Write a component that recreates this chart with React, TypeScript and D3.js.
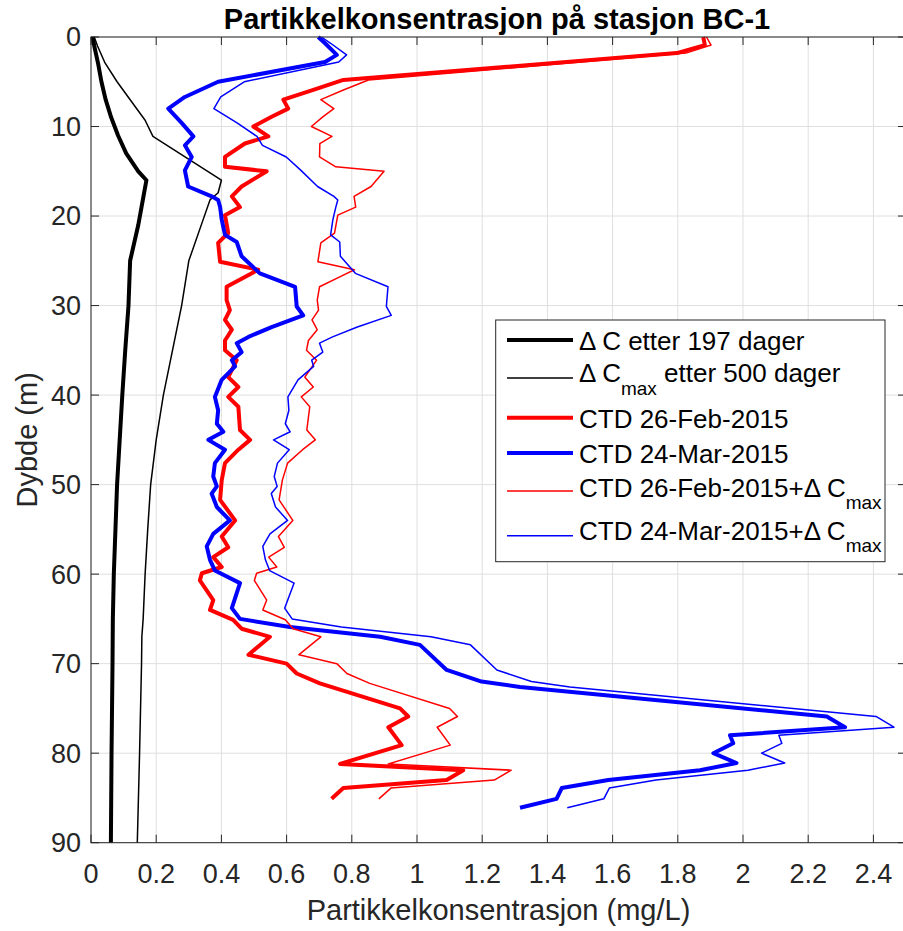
import React from 'react';
import * as d3 from 'd3';

// ---------- data ----------
const xTicks = [0, 0.2, 0.4, 0.6, 0.8, 1, 1.2, 1.4, 1.6, 1.8, 2, 2.2, 2.4];
const xTickLabels = ['0', '0.2', '0.4', '0.6', '0.8', '1', '1.2', '1.4', '1.6', '1.8', '2', '2.2', '2.4'];
const yTicks = [0, 10, 20, 30, 40, 50, 60, 70, 80, 90];
const yTickLabels = ['0', '10', '20', '30', '40', '50', '60', '70', '80', '90'];

// ΔC after 197 days (thick black)
const depthDC = [0, 1, 3, 5, 7, 9, 11, 13, 15, 16, 17, 19, 21, 25, 30, 35, 40, 45, 50, 55, 60, 65, 70, 80, 90];
const dC197 = [0.005, 0.01, 0.022, 0.032, 0.045, 0.062, 0.083, 0.108, 0.145, 0.17, 0.165, 0.155, 0.145, 0.12, 0.115, 0.105, 0.096, 0.088, 0.08, 0.075, 0.07, 0.067, 0.066, 0.063, 0.061];

// ΔCmax after 500 days (thin black)
const depthDCmax = [0, 1, 2.9, 5, 6.7, 9.3, 11.1, 16, 17.4, 18.2, 20.4, 25, 30, 35, 40, 45, 50, 55, 60, 65, 67, 70, 80, 90];
const dCmax500 = [0.01, 0.02, 0.043, 0.08, 0.114, 0.166, 0.19, 0.40, 0.39, 0.365, 0.344, 0.30, 0.278, 0.25, 0.222, 0.2, 0.183, 0.174, 0.166, 0.16, 0.156, 0.155, 0.149, 0.142];

// CTD 26-Feb-2015
const depthFeb = [0, 0.9, 1.8, 4.8, 5.9, 7, 8, 8.9, 10, 11.1, 11.9, 13.4, 14.5, 15, 16.7, 17.8, 19, 19.9, 21.9, 23, 25.1, 26, 26.8, 27.9, 29.4, 30.5, 31.6, 32.7, 33.9, 35, 36.1, 38, 39.1, 40.2, 41.3, 43.9, 45, 46.1, 47.6, 49.5, 51.7, 54, 55.8, 57, 58.1, 59.2, 59.9, 60.7, 62.9, 64, 65.1, 66.1, 67, 69, 70, 71.1, 72.2, 75, 75.9, 77.1, 79.1, 81.2, 81.9, 83, 83.9, 85.1];
const ctdFeb = [1.878, 1.883, 1.797, 0.774, 0.682, 0.59, 0.605, 0.554, 0.498, 0.544, 0.472, 0.411, 0.411, 0.539, 0.462, 0.432, 0.457, 0.411, 0.421, 0.39, 0.396, 0.513, 0.472, 0.416, 0.416, 0.426, 0.411, 0.432, 0.411, 0.411, 0.447, 0.421, 0.452, 0.421, 0.452, 0.457, 0.488, 0.452, 0.411, 0.401, 0.396, 0.442, 0.401, 0.421, 0.375, 0.401, 0.34, 0.334, 0.375, 0.365, 0.436, 0.462, 0.549, 0.483, 0.60, 0.631, 0.702, 0.948, 0.973, 0.912, 0.953, 0.764, 1.142, 1.091, 0.774, 0.738];
const ctdFebPlus = [1.888, 1.902, 1.825, 0.851, 0.776, 0.705, 0.745, 0.712, 0.676, 0.739, 0.702, 0.701, 0.751, 0.899, 0.859, 0.807, 0.812, 0.757, 0.747, 0.705, 0.696, 0.808, 0.763, 0.701, 0.694, 0.698, 0.678, 0.694, 0.667, 0.661, 0.692, 0.656, 0.682, 0.645, 0.671, 0.662, 0.688, 0.649, 0.603, 0.587, 0.577, 0.619, 0.575, 0.593, 0.545, 0.57, 0.508, 0.501, 0.539, 0.527, 0.596, 0.62, 0.705, 0.638, 0.754, 0.785, 0.855, 1.10, 1.124, 1.062, 1.102, 0.912, 1.289, 1.237, 0.92, 0.883];

// CTD 24-Mar-2015
const depthMar = [0, 0.7, 2, 2.8, 5, 6.7, 8, 9.6, 11.1, 12.1, 13.4, 14.9, 16.7, 17.8, 18.2, 19, 20.4, 22.1, 22.9, 24.5, 26.4, 27.9, 30.1, 31.1, 32.4, 33.5, 34.2, 35.2, 36.1, 36.8, 38.3, 40.2, 41.7, 43.2, 44.1, 45, 46.1, 47.6, 49.1, 50.2, 51, 52.5, 54, 55.5, 56.9, 58.4, 59.6, 61, 63.8, 65, 65.9, 67, 67.9, 70.7, 72, 72.6, 75.9, 77.1, 78, 78.9, 80, 81.1, 81.9, 83, 83.9, 85.1, 86.1];
const ctdMar = [0.697, 0.718, 0.754, 0.718, 0.39, 0.288, 0.237, 0.278, 0.314, 0.288, 0.309, 0.288, 0.298, 0.37, 0.39, 0.396, 0.401, 0.411, 0.447, 0.462, 0.518, 0.626, 0.631, 0.651, 0.554, 0.483, 0.447, 0.462, 0.432, 0.442, 0.401, 0.38, 0.39, 0.386, 0.406, 0.36, 0.411, 0.38, 0.375, 0.386, 0.37, 0.386, 0.426, 0.375, 0.355, 0.365, 0.38, 0.457, 0.432, 0.457, 0.61, 0.887, 1.009, 1.091, 1.198, 1.316, 2.257, 2.313, 1.96, 1.97, 1.909, 1.98, 1.868, 1.587, 1.444, 1.428, 1.316];
const ctdMarPlus = [0.707, 0.735, 0.784, 0.76, 0.47, 0.398, 0.377, 0.448, 0.509, 0.526, 0.599, 0.644, 0.695, 0.745, 0.757, 0.751, 0.742, 0.735, 0.763, 0.765, 0.811, 0.911, 0.906, 0.921, 0.817, 0.741, 0.701, 0.711, 0.677, 0.683, 0.635, 0.604, 0.607, 0.596, 0.611, 0.56, 0.608, 0.572, 0.562, 0.571, 0.553, 0.566, 0.603, 0.549, 0.527, 0.535, 0.548, 0.623, 0.594, 0.617, 0.768, 1.043, 1.164, 1.245, 1.351, 1.469, 2.408, 2.463, 2.11, 2.119, 2.057, 2.128, 2.015, 1.733, 1.59, 1.573, 1.461];

const seriesNames = [
  'ΔC etter 197 dager',
  'ΔCmax etter 500 dager',
  'CTD 26-Feb-2015',
  'CTD 24-Mar-2015',
  'CTD 26-Feb-2015+ΔCmax',
  'CTD 24-Mar-2015+ΔCmax',
];

const FONT = "'Liberation Sans', Arial, Helvetica, sans-serif";
const AX = '#262626';
const GRID = '#dfdfdf';

export default function App() {
  const x = d3.scaleLinear().domain([0, 2.5]).range([91, 906]);
  const y = d3.scaleLinear().domain([0, 90]).range([37, 842.7]);
  const mk = (depths: number[], vals: number[]) =>
    d3.line<number>().x((_, i) => x(vals[i])).y((d) => y(d))(depths) || '';

  const series = [
    { d: mk(depthDC, dC197), color: '#000000', w: 4 },
    { d: mk(depthDCmax, dCmax500), color: '#000000', w: 1.5 },
    { d: mk(depthFeb, ctdFeb), color: '#ff0000', w: 4 },
    { d: mk(depthMar, ctdMar), color: '#0000ff', w: 4 },
    { d: mk(depthFeb, ctdFebPlus), color: '#ff0000', w: 1.5 },
    { d: mk(depthMar, ctdMarPlus), color: '#0000ff', w: 1.5 },
  ];

  const x0 = x(0), x1 = x(2.5), y0 = y(0), y1 = y(90);
  const tickLen = 8;

  const legRows = [340, 378, 417.7, 453, 491, 535.7];
  const legBase = [350, 381.7, 428, 463, 497, 540];

  return (
    <div style={{ position: 'absolute', left: 0, top: 0 }}>
      <svg width={903} height={931} style={{ display: 'block', background: '#fff' }} fontFamily={FONT}>
        <rect x={0} y={0} width={903} height={931} fill="#fff" />
        {/* grid */}
        {xTicks.map((t) => (
          <line key={'gx' + t} x1={x(t)} x2={x(t)} y1={y0} y2={y1} stroke={GRID} strokeWidth={1} />
        ))}
        {yTicks.map((t) => (
          <line key={'gy' + t} x1={x0} x2={x1} y1={y(t)} y2={y(t)} stroke={GRID} strokeWidth={1} />
        ))}
        {/* ticks */}
        {xTicks.map((t) => (
          <g key={'tx' + t}>
            <line x1={x(t)} x2={x(t)} y1={y1} y2={y1 - tickLen} stroke={AX} strokeWidth={1} />
            <line x1={x(t)} x2={x(t)} y1={y0} y2={y0 + tickLen} stroke={AX} strokeWidth={1} />
          </g>
        ))}
        {yTicks.map((t) => (
          <g key={'ty' + t}>
            <line x1={x0} x2={x0 + tickLen} y1={y(t)} y2={y(t)} stroke={AX} strokeWidth={1} />
            <line x1={x1} x2={x1 - tickLen} y1={y(t)} y2={y(t)} stroke={AX} strokeWidth={1} />
          </g>
        ))}
        {/* data */}
        {series.map((s, i) => (
          <path key={'s' + i} d={s.d} fill="none" stroke={s.color} strokeWidth={s.w} strokeLinejoin="round" strokeLinecap="butt" />
        ))}
        {/* axes box */}
        <rect x={x0} y={y0} width={x1 - x0} height={y1 - y0} fill="none" stroke={AX} strokeWidth={1} />
        {/* tick labels */}
        {xTicks.map((t, i) => (
          <text key={'lx' + t} x={x(t)} y={883} textAnchor="middle" fontSize={27} fill={AX}>
            {xTickLabels[i]}
          </text>
        ))}
        {yTicks.map((t, i) => (
          <text key={'ly' + t} x={81} y={y(t)} dy="0.35em" textAnchor="end" fontSize={27} fill={AX}>
            {yTickLabels[i]}
          </text>
        ))}
        {/* axis labels */}
        <text x={(x0 + 906) / 2} y={920} textAnchor="middle" fontSize={29} fill={AX}>
          Partikkelkonsentrasjon (mg/L)
        </text>
        <text transform={`translate(37,${(y0 + y1) / 2}) rotate(-90)`} textAnchor="middle" fontSize={29} fill={AX}>
          Dybde (m)
        </text>
        {/* title */}
        <text x={497} y={29} textAnchor="middle" fontSize={29} fontWeight="bold" fill="#000">
          Partikkelkonsentrasjon på stasjon BC-1
        </text>
        {/* legend */}
        <rect x={495.7} y={320} width={389.3} height={241.7} fill="#fff" stroke={AX} strokeWidth={1} />
        {series.map((s, i) => (
          <line key={'ll' + i} x1={507} x2={573} y1={legRows[i]} y2={legRows[i]} stroke={s.color} strokeWidth={s.w} />
        ))}
        <g fontSize={26} fill="#000">
          <text x={579} y={legBase[0]}>Δ C etter 197 dager</text>
          <text x={579} y={legBase[1]}>
            <tspan>Δ C</tspan>
            <tspan dy={13} fontSize={19}>max</tspan>
            <tspan dy={-13}> etter 500 dager</tspan>
          </text>
          <text x={579} y={legBase[2]}>CTD 26-Feb-2015</text>
          <text x={579} y={legBase[3]}>CTD 24-Mar-2015</text>
          <text x={579} y={legBase[4]}>
            <tspan>CTD 26-Feb-2015+Δ C</tspan>
            <tspan dy={12} fontSize={19}>max</tspan>
          </text>
          <text x={579} y={legBase[5]}>
            <tspan>CTD 24-Mar-2015+Δ C</tspan>
            <tspan dy={12} fontSize={19}>max</tspan>
          </text>
        </g>
        <title>{seriesNames.join(', ')}</title>
      </svg>
    </div>
  );
}
